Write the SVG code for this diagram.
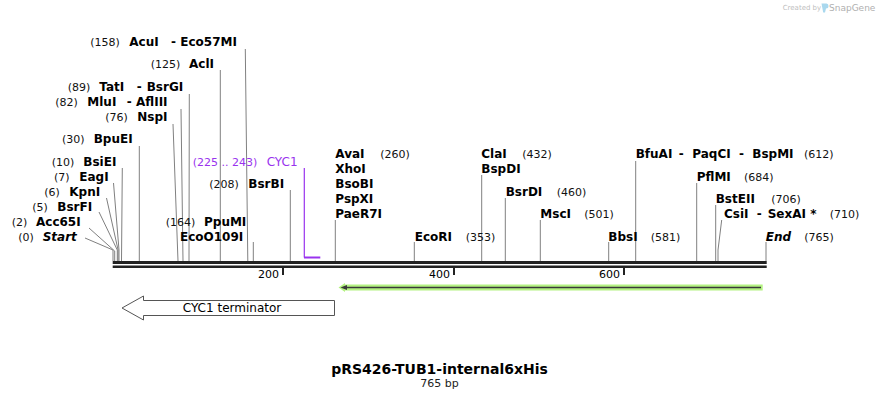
<svg xmlns="http://www.w3.org/2000/svg" width="880" height="400" viewBox="0 0 880 400">
<style>
text{font-family:"DejaVu Sans","Verdana",sans-serif;fill:#000}
.n{font-size:12px;font-weight:bold}
.i{font-style:italic}
.p{font-size:11px;fill:#111}
.c{fill:none;stroke:#808080;stroke-width:1}
.tk{font-size:11px}
.cyc{fill:#9933ee}
</style>
<rect width="880" height="400" fill="#fff"/>
<g id="logo">
<text x="782.7" y="10" style="font-size:7px;fill:#c0c0c0">Created by</text>
<path d="M821.5 3.5 h5 q2 0 2 2.5 q0 2.5 -2.5 2.5 l-1 4 h-1.8 z" fill="#a9d8ee"/>
<text x="829" y="10.5" style="font-size:9px;fill:#b0b0b0">SnapGene</text>
</g>
<g id="connectors">
<polyline class="c" points="245.3,49 247.8,261"/>
<polyline class="c" points="220.3,70 220.3,261"/>
<polyline class="c" points="189.3,94 189,261"/>
<polyline class="c" points="181,109 183,261"/>
<polyline class="c" points="173,124 178,261"/>
<polyline class="c" points="139.3,146 139.3,261"/>
<polyline class="c" points="122.3,168 121.5,261"/>
<polyline class="c" points="113.5,183 119,250 119,261"/>
<polyline class="c" points="106.5,198 118.1,250 118.1,261"/>
<polyline class="c" points="99,212 117.3,250 117.3,261"/>
<polyline class="c" points="89,228 114.7,251 114.7,261"/>
<polyline class="c" points="85,238 113,250 113,261"/>
<polyline class="c" points="253.3,242 253.3,261"/>
<polyline class="c" points="290.3,190 290.3,261"/>
<polyline class="c" points="335.3,220 335.3,261"/>
<polyline class="c" points="414.3,242 414.3,261"/>
<polyline class="c" points="481.7,175 481.7,261"/>
<polyline class="c" points="505.3,198 505.3,261"/>
<polyline class="c" points="540.3,220 540.3,261"/>
<polyline class="c" points="608.7,242 608.7,261"/>
<polyline class="c" points="635.7,161 635.7,261"/>
<polyline class="c" points="696.7,183 696.7,261"/>
<polyline class="c" points="715.7,205 715.7,261"/>
<polyline class="c" points="721.7,220 718,250 718,261"/>
<polyline class="c" points="766,242 766,261"/>
<polyline points="304.3,168 304.3,257.5" fill="none" stroke="#9933ee" stroke-width="1.2"/>
<line x1="304" y1="257.5" x2="320.3" y2="257.5" stroke="#9933ee" stroke-width="2"/>
</g>
<g id="backbone">
<rect x="112.7" y="261" width="654" height="3" fill="#222"/>
<rect x="112.7" y="265.5" width="654" height="2.5" fill="#222"/>
<rect x="282" y="268" width="2" height="7" fill="#222"/>
<rect x="453" y="268" width="2" height="7" fill="#222"/>
<rect x="623" y="268" width="2" height="7" fill="#222"/>
<text class="tk" x="279" y="278" text-anchor="end">200</text>
<text class="tk" x="450" y="278" text-anchor="end">400</text>
<text class="tk" x="620" y="278" text-anchor="end">600</text>
</g>
<g id="AcuI"><text class="p" x="90.3" y="46">(158)</text><text class="n" y="46"><tspan x="129.3">AcuI</tspan><tspan x="171">-</tspan><tspan x="180.3">Eco57MI</tspan></text></g>
<g id="AclI"><text class="p" x="150.7" y="68">(125)</text><text class="n" x="189" y="68">AclI</text></g>
<g id="TatI"><text class="p" x="67.7" y="90.5">(89)</text><text class="n" y="90.5"><tspan x="99.3">TatI</tspan><tspan x="136.7">-</tspan><tspan x="146.7">BsrGI</tspan></text></g>
<g id="MluI"><text class="p" x="55.3" y="106">(82)</text><text class="n" y="106"><tspan x="87.3">MluI</tspan><tspan x="126.7">-</tspan><tspan x="136">AflIII</tspan></text></g>
<g id="NspI"><text class="p" x="105.3" y="121.3">(76)</text><text class="n" x="137.3" y="121.3">NspI</text></g>
<g id="BpuEI"><text class="p" x="62" y="143.3">(30)</text><text class="n" x="93.7" y="143.3">BpuEI</text></g>
<g id="BsiEI"><text class="p" x="51.7" y="165.7">(10)</text><text class="n" x="83.3" y="165.7">BsiEI</text></g>
<g id="EagI"><text class="p" x="54" y="180.7">(7)</text><text class="n" x="79.3" y="180.7">EagI</text></g>
<g id="KpnI"><text class="p" x="44.3" y="195.7">(6)</text><text class="n" x="69.3" y="195.7">KpnI</text></g>
<g id="BsrFI"><text class="p" x="32.3" y="210.7">(5)</text><text class="n" x="57.3" y="210.7">BsrFI</text></g>
<g id="Acc65I"><text class="p" x="11.7" y="225.7">(2)</text><text class="n" x="36" y="225.7">Acc65I</text></g>
<g id="Start"><text class="p" x="18.3" y="240.7">(0)</text><text class="n i" x="42.7" y="240.7">Start</text></g>
<g id="PpuMI"><text class="p" x="165.7" y="225.7">(164)</text><text class="n" x="204" y="225.7">PpuMI</text><text class="n" x="180" y="240.7">EcoO109I</text></g>
<g id="BsrBI"><text class="p" x="209.3" y="187.7">(208)</text><text class="n" x="248.3" y="187.7">BsrBI</text></g>
<g id="CYC1"><text class="cyc" style="font-size:11px" x="192.7" y="166">(225 .. 243)</text><text class="cyc" style="font-size:12px" x="266.7" y="166">CYC1</text></g>
<g id="AvaI"><text class="n" x="335.3" y="158.3">AvaI</text><text class="p" x="380.3" y="158.3">(260)</text>
<text class="n" x="335.3" y="173.3">XhoI</text><text class="n" x="335.3" y="188.3">BsoBI</text><text class="n" x="335.3" y="203.3">PspXI</text><text class="n" x="335.3" y="218.3">PaeR7I</text></g>
<g id="EcoRI"><text class="n" x="414.7" y="240.7">EcoRI</text><text class="p" x="465.7" y="240.7">(353)</text></g>
<g id="ClaI"><text class="n" x="481.3" y="158.3">ClaI</text><text class="p" x="522.3" y="158.3">(432)</text><text class="n" x="481.3" y="173.3">BspDI</text></g>
<g id="BsrDI"><text class="n" x="505.7" y="195.7">BsrDI</text><text class="p" x="556.7" y="195.7">(460)</text></g>
<g id="MscI"><text class="n" x="540.3" y="218.3">MscI</text><text class="p" x="584.3" y="218.3">(501)</text></g>
<g id="BbsI"><text class="n" x="608.3" y="240.7">BbsI</text><text class="p" x="650.7" y="240.7">(581)</text></g>
<g id="BfuAI"><text class="n" y="158.3"><tspan x="635.7">BfuAI</tspan><tspan x="678.7">-</tspan><tspan x="692.3">PaqCI</tspan><tspan x="739">-</tspan><tspan x="752.3">BspMI</tspan></text><text class="p" x="804" y="158.3">(612)</text></g>
<g id="PflMI"><text class="n" x="696.7" y="180.7">PflMI</text><text class="p" x="744" y="180.7">(684)</text></g>
<g id="BstEII"><text class="n" x="715.7" y="203.3">BstEII</text><text class="p" x="771.3" y="203.3">(706)</text></g>
<g id="CsiI"><text class="n" y="218.3"><tspan x="724">CsiI</tspan><tspan x="756.7">-</tspan><tspan x="767.7">SexAI *</tspan></text><text class="p" x="829.7" y="218.3">(710)</text></g>
<g id="End"><text class="n i" x="765.7" y="240.7">End</text><text class="p" x="804.3" y="240.7">(765)</text></g>
<g id="feature-green">
<polygon points="338.5,287.5 345,283 345,284.5 762.7,284.5 762.7,290.5 345,290.5 345,292" fill="#b4f282"/>
<line x1="344" y1="287.5" x2="761" y2="287.5" stroke="#3a3a3a" stroke-width="1.6"/>
<polygon points="340.5,287.5 347,285 347,290" fill="#3a3a3a"/>
</g>
<g id="CYC1-terminator">
<polygon points="122,308 143.5,296 143.5,300.5 334.5,300.5 334.5,315.5 143.5,315.5 143.5,320" fill="#fff" stroke="#555" stroke-width="1"/>
<text x="232" y="311.7" text-anchor="middle" style="font-size:12px">CYC1 terminator</text>
</g>
<g id="title">
<text x="439.5" y="374" text-anchor="middle" style="font-size:14px;font-weight:bold">pRS426-TUB1-internal6xHis</text>
<text x="439.5" y="387" text-anchor="middle" style="font-size:11px;fill:#222">765 bp</text>
</g>
</svg>
